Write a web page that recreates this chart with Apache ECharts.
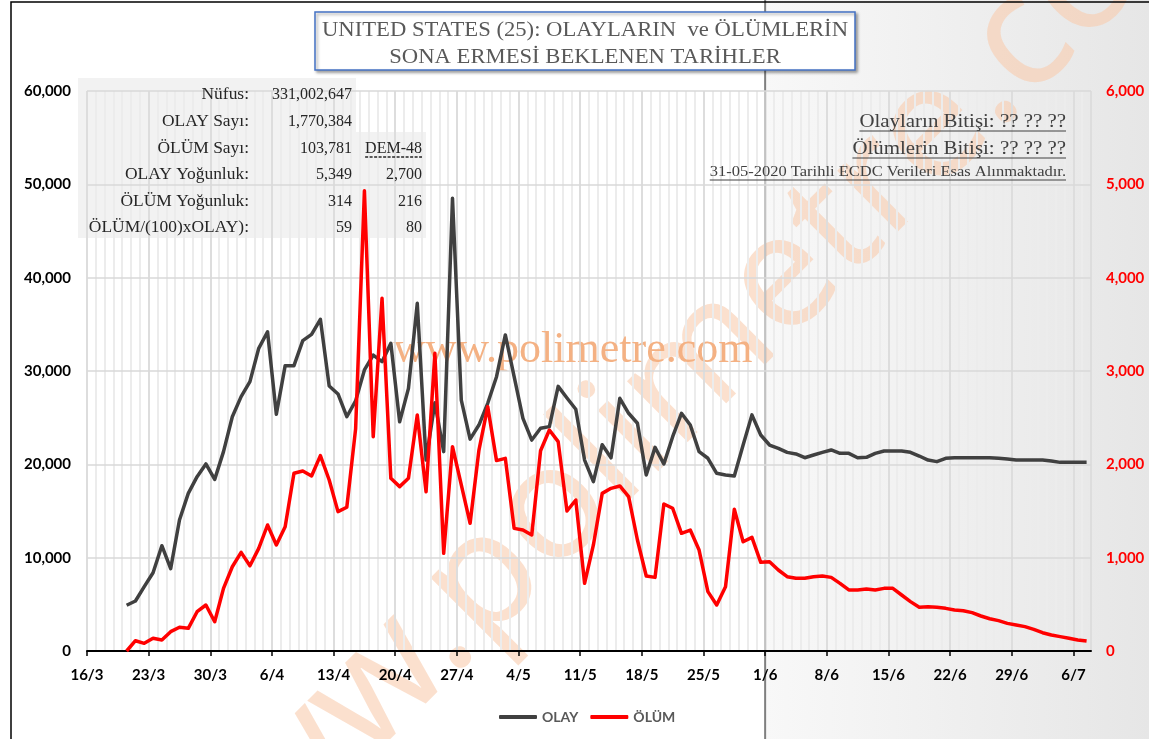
<!DOCTYPE html>
<html>
<head>
<meta charset="utf-8">
<title>United States - Olaylar ve Ölümler</title>
<script src="https://cdn.jsdelivr.net/npm/echarts@6/dist/echarts.min.js"></script>
<style>
    html, body { margin: 0; padding: 0; background: #fff; }
    #chart { width: 1149px; height: 739px; }
</style>
</head>
<body>
<div id="chart"></div>
<script>
// gün 0 = 16/3, veri 20/3'ten (gün 4) başlıyor
const firstDay = 4;
const dayCount = 114;
const shadeFromDay = 77; // 1/6 sonrası tahmin bölgesi

const tickLabels = ['16/3', '23/3', '30/3', '6/4', '13/4', '20/4', '27/4', '4/5', '11/5',
    '18/5', '25/5', '1/6', '8/6', '15/6', '22/6', '29/6', '6/7'];

// günlük OLAY sayısı (20/3 - 7/7)
const olay = [
    4900, 5360, 6890, 8390, 11280, 8820, 14040, 16890, 18680, 20040,
    18390, 21360, 25100, 27250, 28860, 32430, 34210, 25360, 30570, 30570,
    33250, 33930, 35540, 28390, 27540, 25100, 26800, 30110, 31710, 31000,
    32970, 24570, 28140, 37250, 20460, 26600, 21360, 48500, 26890, 22700,
    24210, 26540, 29390, 33860, 29390, 24930, 22600, 23860, 24040, 28350,
    27100, 25900, 20460, 18140, 22100, 20700, 27070, 25470, 24400, 18860,
    21820, 20040, 22960, 25470, 24210, 21360, 20650, 19040, 18860, 18750,
    22070, 25300, 23140, 22070, 21710, 21280, 21110, 20710, 21000, 21280,
    21540, 21180, 21180, 20710, 20750, 21180, 21430, 21430, 21430, 21290,
    20890, 20460, 20290, 20650, 20710, 20710, 20710, 20710, 20710, 20650,
    20570, 20460, 20460, 20460, 20460, 20360, 20210, 20210, 20210, 20210
];

// günlük ÖLÜM sayısı (20/3 - 7/7)
const olum = [
    0, 110, 82, 136, 118, 207, 254, 243, 421, 493,
    314, 671, 903, 1057, 914, 1100, 1350, 1136, 1332, 1904,
    1929, 1875, 2093, 1832, 1493, 1540, 2380, 4930, 2296, 3779,
    1850, 1761, 1850, 2529, 1707, 3189, 1046, 2189, 1779, 1368,
    2150, 2618, 2040, 2064, 1314, 1296, 1243, 2145, 2368, 2243,
    1500, 1618, 725, 1136, 1689, 1743, 1768, 1654, 1189, 804,
    789, 1575, 1529, 1261, 1296, 1082, 636, 493, 689, 1518,
    1171, 1218, 950, 957, 868, 796, 779, 779, 796, 804,
    789, 725, 654, 654, 664, 654, 671, 671, 600, 529,
    468, 475, 468, 457, 439, 432, 411, 375, 346, 325,
    296, 279, 261, 232, 196, 171, 154, 136, 118, 107
];

const tableLabels = ['Nüfus:', 'OLAY Sayı:', 'ÖLÜM Sayı:', 'OLAY Yoğunluk:', 'ÖLÜM Yoğunluk:', 'ÖLÜM/(100)xOLAY):'];
const tableValues = ['331,002,647', '1,770,384', '103,781', '5,349', '314', '59'];
const tableDem = ['', '', 'DEM-48', '2,700', '216', '80'];

const titleLines = ['UNITED STATES (25): OLAYLARIN  ve ÖLÜMLERİN', 'SONA ERMESİ BEKLENEN TARİHLER'];
const noteLines = ['Olayların Bitişi: ?? ?? ??', 'Ölümlerin Bitişi: ?? ?? ??', '31-05-2020 Tarihli ECDC Verileri Esas Alınmaktadır.'];

const serif = '"Liberation Serif", "Times New Roman", serif';
const sans = 'Lato, "Open Sans", sans-serif';

const toPoints = arr => arr.map((v, i) => [firstDay + i + 0.5, v]);
const fmt = v => Number(v).toLocaleString('en-US');

// metin genişliği (alt çizgiler için)
const measureCtx = document.createElement('canvas').getContext('2d');
function textWidth(text, font) {
    measureCtx.font = font;
    return measureCtx.measureText(text).width;
}

const chart = echarts.init(document.getElementById('chart'));

chart.setOption({
    animation: false,
    backgroundColor: '#fff',
    grid: { left: 87, right: 58, top: 91, bottom: 88 },
    legend: {
        left: 494,
        top: 705,
        itemWidth: 38,
        itemHeight: 4,
        itemGap: 12,
        icon: 'roundRect',
        textStyle: { fontFamily: sans, fontWeight: 'bold', fontSize: 14, color: '#595959' },
        data: ['OLAY', 'ÖLÜM']
    },
    xAxis: [
        {
            type: 'value',
            min: 0,
            max: dayCount,
            interval: 7,
            z: 2,
            axisLine: { lineStyle: { color: '#000', width: 2 } },
            axisTick: { length: 5, lineStyle: { color: '#000', width: 1.5 } },
            axisLabel: {
                margin: 17,
                showMaxLabel: false,
                fontFamily: sans,
                fontWeight: 'bold',
                fontSize: 15,
                color: '#000',
                formatter: v => (v % 7 === 0 ? tickLabels[v / 7] || '' : '')
            },
            splitLine: { show: true, lineStyle: { color: '#d9d9d9', width: 1.5 } }
        },
        {
            // günlük ince çizgiler
            type: 'value',
            min: 0,
            max: dayCount,
            interval: 1,
            z: 1,
            axisLine: { show: false },
            axisTick: { show: false },
            axisLabel: { show: false },
            splitLine: { show: true, lineStyle: { color: '#ececec', width: 2 } }
        }
    ],
    yAxis: [
        {
            type: 'value',
            min: 0,
            max: 60000,
            interval: 10000,
            z: 2,
            axisLine: { show: false },
            axisTick: { show: false },
            axisLabel: {
                margin: 16,
                fontFamily: sans,
                fontWeight: 'bold',
                fontSize: 15,
                color: '#000',
                formatter: fmt
            },
            splitLine: { lineStyle: { color: '#d9d9d9', width: 1.5 } }
        },
        {
            type: 'value',
            position: 'right',
            min: 0,
            max: 6000,
            interval: 1000,
            z: 2,
            axisLine: { show: false },
            axisTick: { show: false },
            axisLabel: {
                margin: 15,
                fontFamily: sans,
                fontWeight: 'bold',
                fontSize: 15,
                color: '#ff0000',
                formatter: fmt
            },
            splitLine: { show: false }
        }
    ],
    series: [
        {
            name: 'OLAY',
            type: 'line',
            z: 3,
            showSymbol: false,
            data: toPoints(olay),
            itemStyle: { color: '#404040' },
            lineStyle: { color: '#404040', width: 3.5, join: 'round' }
        },
        {
            name: 'ÖLÜM',
            type: 'line',
            yAxisIndex: 1,
            z: 3,
            showSymbol: false,
            data: toPoints(olum),
            itemStyle: { color: '#ff0000' },
            lineStyle: { color: '#ff0000', width: 3.5, join: 'round' }
        }
    ]
});

// ölçeklerden konumlar
const shadeX = chart.convertToPixel({ xAxisIndex: 0 }, shadeFromDay);
const W = 1149, H = 739;

const graphics = [];

// tahmin bölgesi gölgesi
graphics.push({
    type: 'rect', z: 0, silent: true,
    shape: { x: shadeX, y: 0, width: W - shadeX, height: H },
    style: {
        fill: new echarts.graphic.LinearGradient(0, 0, 1, 0, [
            { offset: 0, color: '#f8f8f8' },
            { offset: 1, color: '#e6e6e6' }
        ])
    }
});

// büyük filigran
graphics.push({
    type: 'text', z: 0, silent: true,
    x: 690, y: 375, rotation: Math.PI / 4,
    style: {
        text: 'www.polimetre.com',
        font: '160px "Noto Sans", sans-serif',
        fill: '#f8cbad',
        opacity: 0.6,
        align: 'center',
        verticalAlign: 'middle'
    }
});

// tablo arka planı
graphics.push({
    type: 'rect', z: 0, silent: true,
    shape: { x: 78, y: 78, width: 278, height: 160 },
    style: { fill: '#f2f2f2' }
});
graphics.push({
    type: 'rect', z: 0, silent: true,
    shape: { x: 356, y: 132, width: 70, height: 106 },
    style: { fill: '#f2f2f2' }
});

// küçük filigran
graphics.push({
    type: 'text', z: 1, silent: true,
    x: 573, y: 350,
    style: {
        text: 'www.polimetre.com',
        font: '44px ' + serif,
        fill: '#f4b183',
        align: 'center',
        verticalAlign: 'middle'
    }
});

// 1/6 dikey çizgi
graphics.push({
    type: 'line', z: 1, silent: true,
    shape: { x1: shadeX, y1: 0, x2: shadeX, y2: H },
    style: { stroke: '#7f7f7f', lineWidth: 2 }
});

// çerçeve
graphics.push({
    type: 'polyline', z: 10, silent: true,
    shape: { points: [[11, H], [11, 2], [W, 2]] },
    style: { stroke: '#000', lineWidth: 1.5, fill: null }
});

// başlık kutusu
graphics.push({
    type: 'rect', z: 10, silent: true,
    shape: { x: 315, y: 12, width: 540, height: 58 },
    style: {
        fill: '#fff', stroke: '#4472c4', lineWidth: 1.5,
        shadowBlur: 3, shadowOffsetX: 2, shadowOffsetY: 2, shadowColor: 'rgba(0,0,0,0.35)'
    }
});
titleLines.forEach((t, i) => {
    graphics.push({
        type: 'text', z: 11, silent: true,
        x: 585, y: 30 + i * 27, scaleX: 1.03,
        style: { text: t, font: '22px ' + serif, fill: '#595959', align: 'center', verticalAlign: 'middle' }
    });
});

// tablo metinleri
const rowY = [95, 122, 149, 175, 202, 228];
tableLabels.forEach((t, i) => {
    graphics.push({
        type: 'text', z: 11, silent: true, x: 249, y: rowY[i], scaleX: 1.09,
        style: { text: t, font: '16px ' + serif, fill: '#262626', align: 'right', verticalAlign: 'middle' }
    });
    graphics.push({
        type: 'text', z: 11, silent: true, x: 352, y: rowY[i],
        style: { text: tableValues[i], font: '16px ' + serif, fill: '#262626', align: 'right', verticalAlign: 'middle' }
    });
    if (tableDem[i]) {
        graphics.push({
            type: 'text', z: 11, silent: true, x: 422, y: rowY[i],
            style: { text: tableDem[i], font: '16px ' + serif, fill: '#262626', align: 'right', verticalAlign: 'middle' }
        });
    }
});
const demW = textWidth('DEM-48', '16px ' + serif);
graphics.push({
    type: 'line', z: 11, silent: true,
    shape: { x1: 422 - demW, y1: 157, x2: 422, y2: 157 },
    style: { stroke: '#262626', lineWidth: 1.5, lineDash: [3, 1.5] }
});

// sağ üst notlar
const noteFonts = ['19px ' + serif, '19px ' + serif, '15px ' + serif];
const noteY = [122, 149, 172];
const noteScale = 1.1;
noteLines.forEach((t, i) => {
    graphics.push({
        type: 'text', z: 11, silent: true, x: 1066, y: noteY[i], scaleX: noteScale,
        style: { text: t, font: noteFonts[i], fill: '#404040', align: 'right', verticalAlign: 'middle' }
    });
    const w = textWidth(t, noteFonts[i]) * noteScale;
    const uy = noteY[i] + (i < 2 ? 9 : 8);
    graphics.push({
        type: 'line', z: 11, silent: true,
        shape: { x1: 1066 - w, y1: uy, x2: 1066, y2: uy },
        style: { stroke: '#404040', lineWidth: 1 }
    });
});

chart.setOption({ graphic: { elements: graphics } });

window.addEventListener('resize', () => chart.resize());
</script>
</body>
</html>
